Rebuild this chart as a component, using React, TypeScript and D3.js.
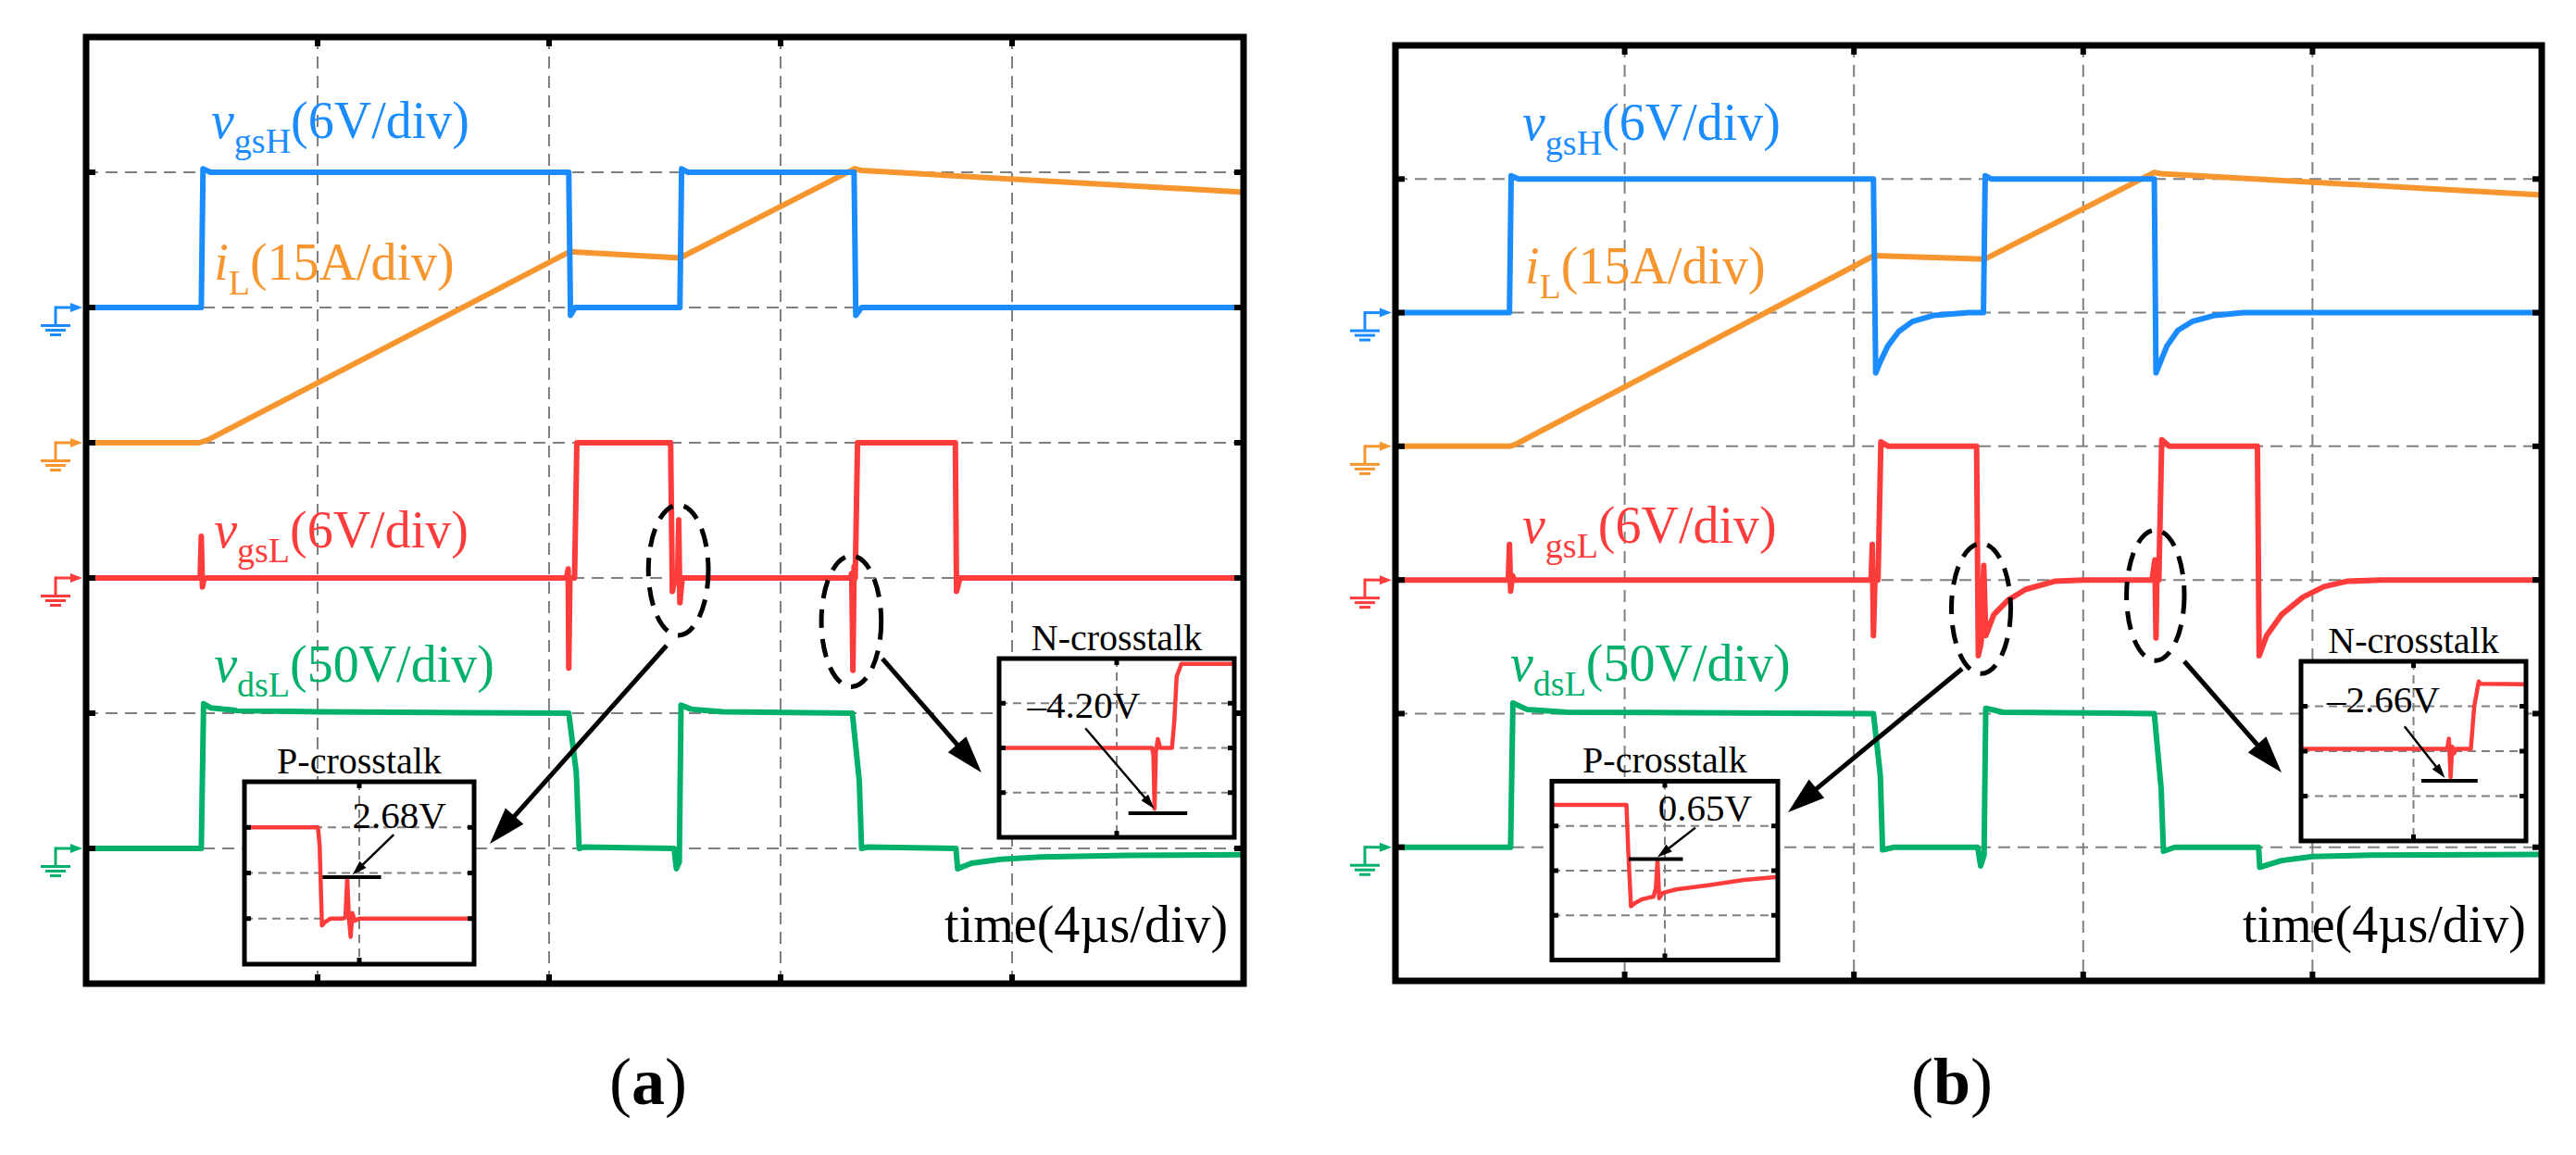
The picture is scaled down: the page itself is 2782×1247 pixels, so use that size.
import React, { useEffect } from 'react';
import * as d3 from 'd3';

type Pt = [number, number];

const FONT = '"Liberation Serif", "Times New Roman", serif';
const TIME_PER_DIV = 4; // µs per division
const X_DIVS = 5;
const Y_DIVS = 7;

// channels: vgsH, iL, vgsL, vdsL
const channelMain = ['v', 'i', 'v', 'v'];
const channelSub = ['gsH', 'L', 'gsL', 'dsL'];
const channelScaleText = ['(6V/div)', '(15A/div)', '(6V/div)', '(50V/div)'];
const channelPerDiv = [6, 15, 6, 50];
const channelGroundRow = [2, 3, 4, 6];
const channelColors = ['#1a8cff', '#f7962f', '#ff3c3c', '#00b06b'];
const drawOrder = [1, 0, 3, 2];

// ---------- panel (a): traces [time µs, value] ----------
const vgsH_a: Pt[] = [[0,0],[1.99,0],[2.02,6.15],[2.15,6],[8.34,6],[8.37,-0.35],[8.45,0],[10.26,0],[10.29,6.15],[10.4,6],[13.27,6],[13.3,-0.35],[13.4,0],[20,0]];
const iL_a: Pt[] = [[0,0],[1.95,0],[2.1,0.3],[8.36,21.2],[10.26,20.5],[13.28,30.4],[13.4,30.2],[20,27.8]];
const vgsL_a: Pt[] = [[0,0],[1.97,0],[1.99,1.85],[2.01,-0.4],[2.04,0],[8.3,0],[8.33,0.4],[8.34,-4.0],[8.36,0],[8.44,0],[8.48,6],[10.1,6],[10.13,-0.6],[10.18,0],[10.22,0],[10.24,2.58],[10.26,-1.1],[10.3,0],[13.2,0],[13.23,0.2],[13.25,-4.1],[13.27,0.5],[13.29,0],[13.33,6],[15.02,6],[15.04,-0.6],[15.1,0],[20,0]];
const vdsL_a: Pt[] = [[0,0],[1.99,0],[2.03,53.5],[2.15,52],[2.6,51],[4,50.5],[8.34,50],[8.47,28],[8.52,0],[8.6,0.5],[10.16,0],[10.2,-7.5],[10.25,-5],[10.28,53],[10.45,51.5],[11,50.5],[13.24,50],[13.36,25],[13.4,0],[13.5,0.5],[15.03,0],[15.06,-7.5],[15.3,-5.5],[15.8,-4],[16.5,-3.2],[18,-2.6],[20,-2.3]];

// ---------- panel (b) ----------
const vgsH_b: Pt[] = [[0,0],[1.99,0],[2.02,6.15],[2.15,6],[8.34,6],[8.38,-2.7],[8.46,-2.2],[8.59,-1.5],[8.78,-0.85],[9.02,-0.4],[9.4,-0.12],[10.0,0],[10.26,0],[10.29,6.15],[10.4,6],[13.24,6],[13.27,-2.7],[13.35,-2.2],[13.46,-1.5],[13.65,-0.8],[13.9,-0.4],[14.3,-0.12],[14.8,0],[20,0]];
const iL_b: Pt[] = [[0,0],[2.0,0],[2.12,0.3],[8.35,21.4],[10.28,21.0],[13.24,30.75],[13.35,30.6],[20,28.2]];
const vgsL_b: Pt[] = [[0,0],[1.97,0],[1.99,1.6],[2.01,-0.5],[2.04,0.2],[2.08,0],[8.3,0],[8.32,1.6],[8.34,-2.5],[8.37,0.3],[8.42,0],[8.47,6.2],[8.6,6],[10.14,6],[10.17,-3.4],[10.22,-2.8],[10.265,0.65],[10.3,-2.5],[10.44,-1.56],[10.69,-0.9],[11.0,-0.42],[11.5,-0.06],[12.0,0],[13.2,0],[13.25,0.9],[13.27,-2.6],[13.29,0.9],[13.32,0],[13.37,6.3],[13.5,6],[15.04,6],[15.07,-3.4],[15.2,-2.5],[15.46,-1.56],[15.83,-0.78],[16.2,-0.3],[16.6,-0.06],[17.2,0],[20,0]];
const vdsL_b: Pt[] = [[0,0],[2.01,0],[2.05,54],[2.3,51.5],[3,50.5],[8.34,50],[8.46,27],[8.5,-1],[8.7,0],[10.16,0],[10.21,-7],[10.27,-3],[10.3,52],[10.6,50.5],[13.24,50],[13.36,22],[13.4,-1.5],[13.6,0],[15.06,0],[15.08,-7.5],[15.46,-5],[16.0,-3.5],[17.0,-3],[20,-2.7]];

// ---------- inset traces [inset div x (0..2), inset div level (0..4)] ----------
const insetP_a: Pt[] = [[0,3.0],[0.64,3.0],[0.655,2.6],[0.675,0.85],[0.70,0.92],[0.75,1.0],[0.86,1.0],[0.88,1.05],[0.895,1.9],[0.91,1.0],[0.925,0.6],[0.94,1.12],[0.96,0.95],[1.0,1.0],[2.0,1.0]];
const insetN_a: Pt[] = [[0,2.0],[1.3,2.0],[1.312,1.85],[1.322,0.64],[1.333,1.9],[1.35,2.2],[1.37,2.0],[1.47,2.0],[1.49,2.6],[1.51,3.6],[1.55,3.88],[2,3.88]];
const insetP_b: Pt[] = [[0,3.47],[0.66,3.47],[0.675,2.5],[0.70,1.2],[0.74,1.28],[0.8,1.36],[0.9,1.42],[0.92,1.6],[0.935,2.24],[0.95,1.38],[0.98,1.5],[1.1,1.58],[1.4,1.68],[1.7,1.79],[2.0,1.86]];
const insetN_b: Pt[] = [[0,2.05],[1.30,2.05],[1.315,2.28],[1.33,1.42],[1.345,2.1],[1.36,1.95],[1.38,2.05],[1.51,2.05],[1.54,3.0],[1.58,3.55],[1.6,3.5],[2,3.49]];

const insetTitles = ['P-crosstalk', 'N-crosstalk'];
const insetValues_a = ['2.68V', '\u20134.20V'];
const insetValues_b = ['0.65V', '\u20132.66V'];

type InsetSpec = {
  box: [number, number, number, number]; // t0, t1, row0, row1
  title: string;
  trace: Pt[];
  mark: [number, number, number]; // level, x0, x1
  arrow: [number, number, number, number];
  value: string;
  valuePos: Pt;
};

type PanelSpec = {
  frame: { x0: number; x1: number; y0: number; y1: number };
  traces: Pt[][];
  labelPos: Pt[]; // [t,row] baseline start
  timePos: Pt;
  panelLabel: string;
  panelLabelPos: Pt;
  ellipses: [number, number, number, number][]; // t,row,rx(t),ry(row)
  arrows: [number, number, number, number][]; // t1,row1,t2,row2
  insets: InsetSpec[];
};

const panels: PanelSpec[] = [
  {
    frame: { x0: 93, x1: 1343, y0: 40, y1: 1062 },
    traces: [vgsH_a, iL_a, vgsL_a, vdsL_a],
    labelPos: [[2.16, 0.747], [2.21, 1.795], [2.21, 3.774], [2.21, 4.767]],
    timePos: [19.73, 6.692],
    panelLabel: 'a',
    panelLabelPos: [9.71, 7.89],
    ellipses: [[10.234, 3.942, 0.518, 0.482], [13.222, 4.32, 0.517, 0.484]],
    arrows: [[10.03, 4.5, 6.976, 5.966], [13.76, 4.596, 15.47, 5.438]],
    insets: [
      { box: [2.736, 6.704, 5.507, 6.856], title: insetTitles[0], trace: insetP_a, mark: [1.91, 0.68, 1.19], arrow: [1.30, 2.84, 0.94, 1.96], value: insetValues_a[0], valuePos: [0.94, 2.98] },
      { box: [15.776, 19.84, 4.596, 5.918], title: insetTitles[1], trace: insetN_a, mark: [0.54, 1.1, 1.6], arrow: [0.734, 2.44, 1.32, 0.64], value: insetValues_a[1], valuePos: [0.24, 2.68] },
    ],
  },
  {
    frame: { x0: 1507, x1: 2745, y0: 49, y1: 1059 },
    traces: [vgsH_b, iL_b, vgsL_b, vdsL_b],
    labelPos: [[2.213, 0.707], [2.262, 1.781], [2.213, 3.722], [2.003, 4.754]],
    timePos: [19.725, 6.709],
    panelLabel: 'b',
    panelLabelPos: [9.71, 7.92],
    ellipses: [[10.218, 4.214, 0.517, 0.487], [13.26, 4.115, 0.504, 0.488]],
    arrows: [[9.887, 4.664, 6.85, 5.738], [13.764, 4.609, 15.46, 5.44]],
    insets: [
      { box: [2.73, 6.672, 5.506, 6.844], title: insetTitles[0], trace: insetP_b, mark: [2.26, 0.68, 1.16], arrow: [1.27, 2.96, 0.934, 2.30], value: insetValues_b[0], valuePos: [0.94, 3.12] },
      { box: [15.8, 19.725, 4.609, 5.953], title: insetTitles[1], trace: insetN_b, mark: [1.34, 1.07, 1.57], arrow: [0.92, 2.55, 1.28, 1.40], value: insetValues_b[1], valuePos: [0.23, 2.86] },
    ],
  },
];

function Arrow({ x1, y1, x2, y2, w, hl, hw }: { x1: number; y1: number; x2: number; y2: number; w: number; hl: number; hw: number }) {
  const dx = x2 - x1, dy = y2 - y1;
  const L = Math.hypot(dx, dy);
  const ux = dx / L, uy = dy / L;
  const bx = x2 - ux * hl, by = y2 - uy * hl;
  const px = -uy, py = ux;
  return (
    <g>
      <line x1={x1} y1={y1} x2={bx + ux * 3} y2={by + uy * 3} stroke="#000" strokeWidth={w} />
      <polygon points={`${x2},${y2} ${bx + (px * hw) / 2},${by + (py * hw) / 2} ${bx - (px * hw) / 2},${by - (py * hw) / 2}`} fill="#000" />
    </g>
  );
}

function Inset({ spec, x, row }: { spec: InsetSpec; x: d3.ScaleLinear<number, number>; row: d3.ScaleLinear<number, number> }) {
  const bx0 = x(spec.box[0]), bx1 = x(spec.box[1]);
  const by0 = row(spec.box[2]), by1 = row(spec.box[3]);
  const ix = d3.scaleLinear().domain([0, 2]).range([bx0, bx1]);
  const iy = d3.scaleLinear().domain([0, 4]).range([by1, by0]);
  const line = d3.line<Pt>().x((d) => ix(d[0])).y((d) => iy(d[1]));
  const levels = [1, 2, 3];
  return (
    <g>
      <rect x={bx0} y={by0} width={bx1 - bx0} height={by1 - by0} fill="#fff" />
      {levels.map((l) => (
        <line key={'h' + l} x1={bx0} x2={bx1} y1={iy(l)} y2={iy(l)} stroke="#808080" strokeWidth={2} strokeDasharray="9 6" />
      ))}
      <line x1={ix(1)} x2={ix(1)} y1={by0} y2={by1} stroke="#808080" strokeWidth={2} strokeDasharray="9 6" />
      <path d={line(spec.trace) || ''} fill="none" stroke={channelColors[2]} strokeWidth={4.5} strokeLinejoin="round" />
      <line x1={ix(spec.mark[1])} x2={ix(spec.mark[2])} y1={iy(spec.mark[0])} y2={iy(spec.mark[0])} stroke="#000" strokeWidth={4} />
      <Arrow x1={ix(spec.arrow[0])} y1={iy(spec.arrow[1])} x2={ix(spec.arrow[2])} y2={iy(spec.arrow[3])} w={2.5} hl={16} hw={10} />
      <text x={ix(spec.valuePos[0])} y={iy(spec.valuePos[1])} fontFamily={FONT} fontSize={41} fill="#000">{spec.value}</text>
      {levels.map((l) => (
        <g key={'t' + l}>
          <rect x={bx0} y={iy(l) - 2.5} width={7} height={5} fill="#000" />
          <rect x={bx1 - 7} y={iy(l) - 2.5} width={7} height={5} fill="#000" />
        </g>
      ))}
      <rect x={ix(1) - 2.5} y={by0} width={5} height={7} fill="#000" />
      <rect x={ix(1) - 2.5} y={by1 - 7} width={5} height={7} fill="#000" />
      <rect x={bx0} y={by0} width={bx1 - bx0} height={by1 - by0} fill="none" stroke="#000" strokeWidth={5} />
      <text x={(bx0 + bx1) / 2} y={by0 - 9.5} textAnchor="middle" fontFamily={FONT} fontSize={40} fill="#000">{spec.title}</text>
    </g>
  );
}

function GroundMark({ x0, y, color }: { x0: number; y: number; color: string }) {
  const sx = x0 - 33;
  return (
    <g fill={color} stroke={color}>
      <line x1={sx} y1={y} x2={x0 - 15} y2={y} strokeWidth={3} />
      <polygon points={`${x0 - 4},${y} ${x0 - 17},${y - 5} ${x0 - 17},${y + 5}`} stroke="none" />
      <line x1={sx} y1={y - 1.5} x2={sx} y2={y + 19} strokeWidth={3} />
      <rect x={sx - 16} y={y + 18} width={32} height={3} stroke="none" />
      <rect x={sx - 11} y={y + 23} width={22} height={3} stroke="none" />
      <rect x={sx - 6} y={y + 28} width={12} height={3} stroke="none" />
    </g>
  );
}

function Panel({ spec }: { spec: PanelSpec }) {
  const f = spec.frame;
  const x = d3.scaleLinear().domain([0, X_DIVS * TIME_PER_DIV]).range([f.x0, f.x1]);
  const row = d3.scaleLinear().domain([0, Y_DIVS]).range([f.y0, f.y1]);
  const rows = d3.range(1, Y_DIVS);
  const cols = d3.range(1, X_DIVS);
  return (
    <g>
      {rows.map((r) => (
        <line key={'gr' + r} x1={f.x0} x2={f.x1} y1={row(r)} y2={row(r)} stroke="#808080" strokeWidth={2} strokeDasharray="13 8" />
      ))}
      {cols.map((c) => (
        <line key={'gc' + c} x1={x(c * TIME_PER_DIV)} x2={x(c * TIME_PER_DIV)} y1={f.y0} y2={f.y1} stroke="#808080" strokeWidth={2} strokeDasharray="13 8" />
      ))}
      {drawOrder.map((ci) => {
        const ground = channelGroundRow[ci];
        const per = channelPerDiv[ci];
        const y = d3.scaleLinear().domain([0, per]).range([row(ground), row(ground - 1)]);
        const line = d3.line<Pt>().x((d) => x(d[0])).y((d) => y(d[1]));
        return <path key={'tr' + ci} d={line(spec.traces[ci]) || ''} fill="none" stroke={channelColors[ci]} strokeWidth={6} strokeLinejoin="round" />;
      })}
      {spec.ellipses.map((e, i) => (
        <ellipse key={'el' + i} cx={x(e[0])} cy={row(e[1])} rx={x(e[2]) - x(0)} ry={row(e[3]) - row(0)} fill="none" stroke="#000" strokeWidth={5} strokeDasharray="20 12" />
      ))}
      {spec.arrows.map((a, i) => (
        <Arrow key={'ar' + i} x1={x(a[0])} y1={row(a[1])} x2={x(a[2])} y2={row(a[3])} w={5} hl={40} hw={26} />
      ))}
      {spec.insets.map((s, i) => (
        <Inset key={'in' + i} spec={s} x={x} row={row} />
      ))}
      {channelMain.map((m, ci) => (
        <text key={'lb' + ci} x={x(spec.labelPos[ci][0])} y={row(spec.labelPos[ci][1])} fontFamily={FONT} fontSize={56} fill={channelColors[ci]}>
          <tspan fontStyle="italic">{m}</tspan>
          <tspan fontSize={38} dy={16}>{channelSub[ci]}</tspan>
          <tspan dy={-16}>{channelScaleText[ci]}</tspan>
        </text>
      ))}
      <text x={x(spec.timePos[0])} y={row(spec.timePos[1])} textAnchor="end" fontFamily={FONT} fontSize={56} fill="#000">time(4µs/div)</text>
      {channelGroundRow.map((g, ci) => (
        <GroundMark key={'gm' + ci} x0={f.x0} y={row(g)} color={channelColors[ci]} />
      ))}
      {rows.map((r) => (
        <g key={'tk' + r}>
          <rect x={f.x0} y={row(r) - 3} width={10} height={6} fill="#000" />
          <rect x={f.x1 - 10} y={row(r) - 3} width={10} height={6} fill="#000" />
        </g>
      ))}
      {cols.map((c) => (
        <g key={'tc' + c}>
          <rect x={x(c * TIME_PER_DIV) - 3} y={f.y0} width={6} height={10} fill="#000" />
          <rect x={x(c * TIME_PER_DIV) - 3} y={f.y1 - 10} width={6} height={10} fill="#000" />
        </g>
      ))}
      <rect x={f.x0} y={f.y0} width={f.x1 - f.x0} height={f.y1 - f.y0} fill="none" stroke="#000" strokeWidth={7} />
      <text x={x(spec.panelLabelPos[0])} y={row(spec.panelLabelPos[1])} textAnchor="middle" fontFamily={FONT} fontSize={72} fill="#000">
        (<tspan fontWeight="bold">{spec.panelLabel}</tspan>)
      </text>
    </g>
  );
}

export default function App() {
  useEffect(() => {
    document.body.style.margin = '0';
  }, []);
  return (
    <svg width={2782} height={1247} viewBox="0 0 2782 1247" style={{ display: 'block', position: 'absolute', left: 0, top: 0, background: '#fff' }}>
      <rect x={0} y={0} width={2782} height={1247} fill="#fff" />
      {panels.map((p, i) => (
        <Panel key={i} spec={p} />
      ))}
    </svg>
  );
}
